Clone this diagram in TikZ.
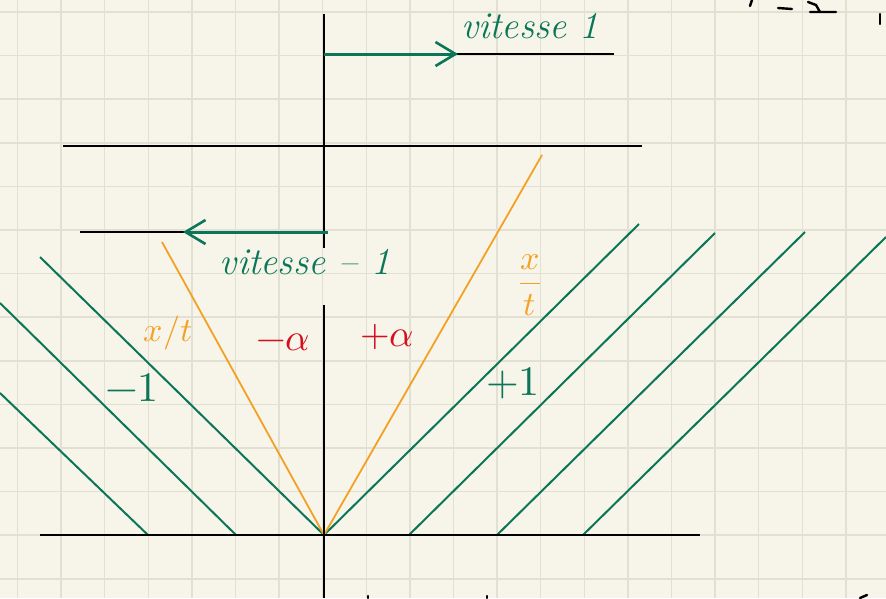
\documentclass[tikz,border=0pt]{standalone}
\usepackage{unicode-math}
\usetikzlibrary{arrows.meta}
\definecolor{paper}{HTML}{F7F5E9}
\definecolor{gridc}{HTML}{E2E0D2}
\definecolor{ink}{HTML}{0B7657}
\definecolor{orng}{HTML}{F4A024}
\definecolor{redink}{HTML}{D2101E}
\tikzset{
  axis/.style={black, line width=2.4pt},
  gline/.style={ink, line width=2pt},
  oline/.style={orng, line width=1.8pt},
  garrow/.style={ink, line width=3pt, -{Straight Barb[length=20pt,width=24pt,line width=2.6pt]}},
  glab/.style={ink, font=\fontsize{38}{40}\selectfont\itshape, inner sep=0pt},
  nlab/.style={ink, font=\fontsize{42}{44}\selectfont, inner sep=0pt},
  olab/.style={orng, font=\fontsize{34}{36}\selectfont, inner sep=0pt},
  rlab/.style={redink, font=\fontsize{38}{40}\selectfont, inner sep=0pt},
  frag/.style={black, line width=2.4pt, line cap=round}
}
\begin{document}
\begin{tikzpicture}[x=1pt,y=-1pt]
\useasboundingbox (0,0) rectangle (886,598);
\fill[paper] (0,0) rectangle (886,598);
% grid
\foreach \k in {0,...,19} \draw[gridc, line width=1.5pt] ({17.5+43.6*\k},0) -- ({17.5+43.6*\k},598);
\foreach \k in {0,...,13} \draw[gridc, line width=1.5pt] (0,{12+43.6*\k}) -- (886,{12+43.6*\k});

% coordinates
\coordinate (O) at (324,535);
\coordinate (ttop) at (324,14);
\coordinate (tbot) at (324,248);
\coordinate (v1s) at (324,54);
\coordinate (v1a) at (458,54);
\coordinate (v1e) at (614,54);
\coordinate (mL) at (63,146);
\coordinate (mR) at (642,146);
\coordinate (lL) at (80,232);
\coordinate (lR) at (328,232);
\coordinate (lA) at (183,232);
\coordinate (atop) at (324,305);
\coordinate (abot) at (324,598);
\coordinate (xL) at (40,535);
\coordinate (xR) at (700,535);
\coordinate (oR) at (542,155);
\coordinate (oL) at (162,242);
% green diagonals
\coordinate (r1) at (639,224);
\coordinate (b2) at (409,535);
\coordinate (r2) at (715,233);
\coordinate (b3) at (497,535);
\coordinate (r3) at (805,232);
\coordinate (b4) at (583,535);
\coordinate (r4) at (886,237);
\coordinate (l1) at (40,257);
\coordinate (c2) at (236,535);
\coordinate (l2) at (0,303);
\coordinate (c3) at (148,535);
\coordinate (l3) at (0,393);

% top diagram
\draw[axis] (ttop) -- (tbot);
\draw[axis] (v1s) -- (v1e);
\draw[garrow] (v1s) -- (v1a);
\draw[axis] (mL) -- (mR);
\draw[axis] (lL) -- (lR);
\draw[garrow] (lR) -- (lA);
\node[glab] (tv1) at (530,26) {vitesse 1};
\node[glab] (tvm1) at (305,262) {vitesse -- 1};

% bottom diagram
\draw[gline] (O) -- (r1);
\draw[gline] (b2) -- (r2);
\draw[gline] (b3) -- (r3);
\draw[gline] (b4) -- (r4);
\draw[gline] (O) -- (l1);
\draw[gline] (c2) -- (l2);
\draw[gline] (c3) -- (l3);
\draw[oline] (O) -- (oR);
\draw[oline] (O) -- (oL);
\draw[axis] (atop) -- (abot);
\draw[axis] (xL) -- (xR);

\node[olab] (xtL) at (168,333) {$x/t$};
\node[olab] (xtR) at (530,285) {$\displaystyle\frac{x}{t}$};
\node[rlab] (am) at (283,342) {$-\alpha$};
\node[rlab] (ap) at (387,337) {$+\alpha$};
\node[nlab] (m1) at (132,388) {$-1$};
\node[nlab] (p1) at (513,383) {$+1$};

% cropped fragments at the edges
\draw[frag] (752,0) -- (750,6);
\draw[frag] (778,8) -- (792,9);
\draw[frag] (808,2) -- (816,5) -- (820,12) (810,12) -- (836,12);
\draw[frag] (880,14) -- (880,24);
\draw[frag] (368,596) -- (368,598);
\draw[frag] (487,596) -- (487,598);
\draw[frag] (860,598) -- (867,595);
\end{tikzpicture}
\end{document}
